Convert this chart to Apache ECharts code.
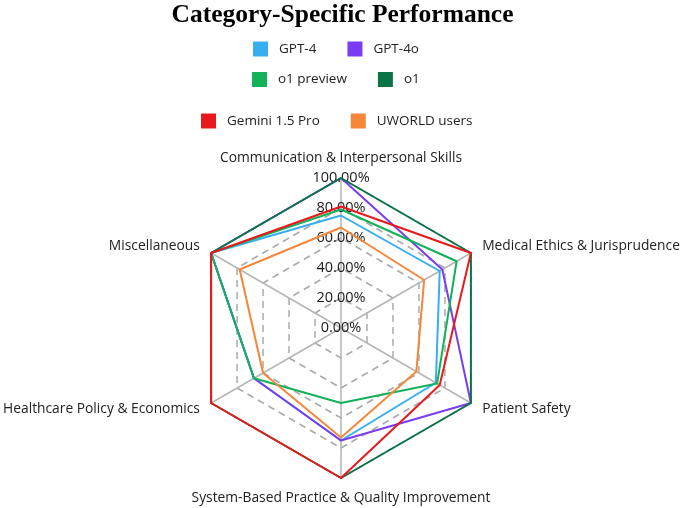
<!DOCTYPE html>
<html>
<head>
<meta charset="utf-8">
<script src="https://cdn.jsdelivr.net/npm/echarts@6/dist/echarts.min.js"></script>
<style>html,body{margin:0;padding:0;background:#fff}#c{width:685px;height:508px}</style>
</head>
<body>
<div id="c"></div>
<script>
// Indicators listed counter-clockwise from the top (ECharts radar order)
const categories = [
  'Communication & Interpersonal Skills',
  'Miscellaneous',
  'Healthcare Policy & Economics',
  'System-Based Practice & Quality Improvement',
  'Patient Safety',
  'Medical Ethics & Jurisprudence'
];
const seriesNames = ['GPT-4', 'GPT-4o', 'o1 preview', 'o1', 'Gemini 1.5 Pro', 'UWORLD users'];
const gpt4      = [75, 100, 67, 75, 73, 76];
const gpt4o     = [100, 100, 67, 75, 100, 78];
const o1preview = [79, 100, 67, 50, 74, 89];
const o1        = [100, 100, 100, 100, 100, 100];
const gemini    = [81, 100, 100, 100, 76, 100];
const uworld    = [67, 78, 60, 73, 58, 64];
const tickValues = [0, 20, 40, 60, 80, 100];

const colors = ['#36aef0', '#7a3cf0', '#13b15a', '#0a7447', '#e8181c', '#f5863a'];
const allValues = [gpt4, gpt4o, o1preview, o1, gemini, uworld];

const chart = echarts.init(document.getElementById('c'), null, {renderer: 'canvas'});
const font = 'Open Sans';

const indicator = categories.map((name, i) => {
  const ind = {name: name, min: 0, max: tickValues[tickValues.length - 1]};
  if (i === 0) {
    ind.axisLabel = {
      show: true,
      margin: 0,
      align: 'center',
      verticalAlign: 'middle',
      color: '#1a1a1a',
      fontFamily: font,
      fontSize: 14.5,
      formatter: v => Number(v).toFixed(2) + '%'
    };
  }
  return ind;
});

const legendBase = {
  padding: 0,
  icon: 'rect',
  itemWidth: 15,
  itemHeight: 15,
  itemGap: 31,
  textStyle: {fontFamily: font, fontSize: 13.5, color: '#222', padding: [0, 0, 0, 6]}
};

chart.setOption({
  animation: false,
  color: colors,
  title: {
    text: 'Category-Specific Performance',
    left: 'center',
    top: -3,
    textStyle: {fontFamily: 'Liberation Serif', fontWeight: 'bold', fontSize: 25.5, color: '#000'}
  },
  legend: [
    Object.assign({}, legendBase, {data: seriesNames.slice(0, 2), top: 41.5, left: 253}),
    Object.assign({}, legendBase, {data: seriesNames.slice(2, 4), top: 72, left: 252}),
    Object.assign({}, legendBase, {data: seriesNames.slice(4, 6), top: 113.5, left: 201})
  ],
  radar: {
    center: [341, 328],
    radius: 150,
    startAngle: 90,
    splitNumber: tickValues.length - 1,
    indicator: indicator,
    axisName: {color: '#222', fontFamily: font, fontSize: 13.8},
    nameGap: 13,
    axisLine: {lineStyle: {color: '#b5b5b5', width: 1.5}},
    splitLine: {lineStyle: {color: '#aaaaaa', width: 1.5, type: [7, 5]}},
    splitArea: {show: false},
    axisTick: {show: false},
    axisLabel: {show: false}
  },
  series: seriesNames.map((n, i) => ({
    type: 'radar',
    name: n,
    symbol: 'none',
    lineStyle: {width: 2, color: colors[i]},
    itemStyle: {color: colors[i]},
    data: [{name: n, value: allValues[i]}]
  }))
});
</script>
</body>
</html>
